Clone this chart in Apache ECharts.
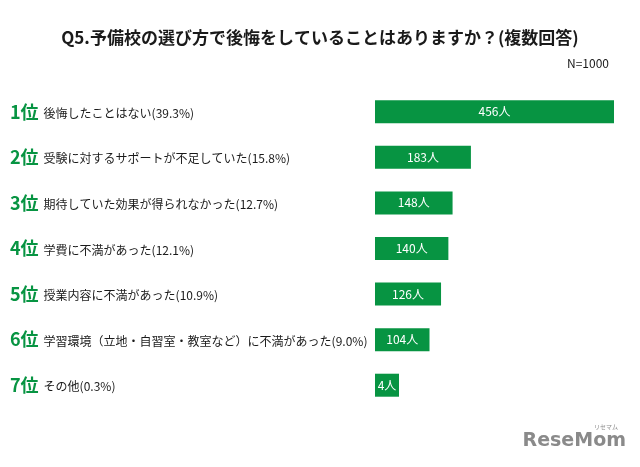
<!DOCTYPE html>
<html><head><meta charset="utf-8">
<script src="https://cdn.jsdelivr.net/npm/echarts@6/dist/echarts.min.js"></script>
<style>html,body{margin:0;padding:0;background:#fff}#c{width:640px;height:467px}</style>
</head><body><div id="c"></div>
<script>
const ranks = ['1位','2位','3位','4位','5位','6位','7位'];
const categories = ['後悔したことはない','受験に対するサポートが不足していた','期待していた効果が得られなかった','学費に不満があった','授業内容に不満があった','学習環境（立地・自習室・教室など）に不満があった','その他'];
const percents = ['39.3','15.8','12.7','12.1','10.9','9.0','0.3'];
const counts = [456,183,148,140,126,104,4];
const titleText = 'Q5.予備校の選び方で後悔をしていることはありますか？(複数回答)';
const noteText = 'N=1000';

const FONT = '"Noto Sans CJK JP","Noto Sans",sans-serif';
const GREEN = '#079442';
const labels = categories.map((c,i)=>'{r|'+ranks[i]+'}{t|'+c+'('+percents[i]+'%)}');

const chart = echarts.init(document.getElementById('c'));
chart.setOption({
  backgroundColor:'#fff',
  animation:false,
  textStyle:{fontFamily:FONT},
  title:[
    {text:titleText,left:'center',top:24,textStyle:{fontFamily:FONT,fontSize:17,fontWeight:'bold',color:'#1a1a1a'}},
    {text:noteText,right:26,top:52,textStyle:{fontFamily:FONT,fontSize:12,fontWeight:'normal',color:'#1a1a1a'}}
  ],
  grid:{left:375,right:26,top:89,bottom:59,containLabel:false},
  xAxis:{type:'value',min:0,max:'dataMax',show:false},
  yAxis:{type:'category',inverse:true,data:labels,
    axisLine:{show:false},axisTick:{show:false},
    axisLabel:{align:'left',margin:365,
      rich:{
        r:{fontFamily:FONT,fontSize:18,fontWeight:'bold',color:GREEN,padding:[0,5,0,0]},
        t:{fontFamily:FONT,fontSize:12,color:'#1a1a1a',padding:[3,0,0,0]}
      }}},
  series:[{type:'bar',data:counts,barWidth:23,barMinHeight:24,
    itemStyle:{color:GREEN},
    label:{show:true,position:'inside',color:'#fff',fontFamily:FONT,fontSize:12,formatter:'{c}人'}}],
  graphic:[
    {type:'text',right:14,bottom:16,style:{text:'ReseMom',fontFamily:'"DejaVu Sans",sans-serif',fontSize:19,fontWeight:'bold',fill:'#8a8a8a'}},
    {type:'text',right:22,bottom:37,style:{text:'リセマム',fontFamily:FONT,fontSize:6,fill:'#8a8a8a'}}
  ]
});
</script></body></html>
